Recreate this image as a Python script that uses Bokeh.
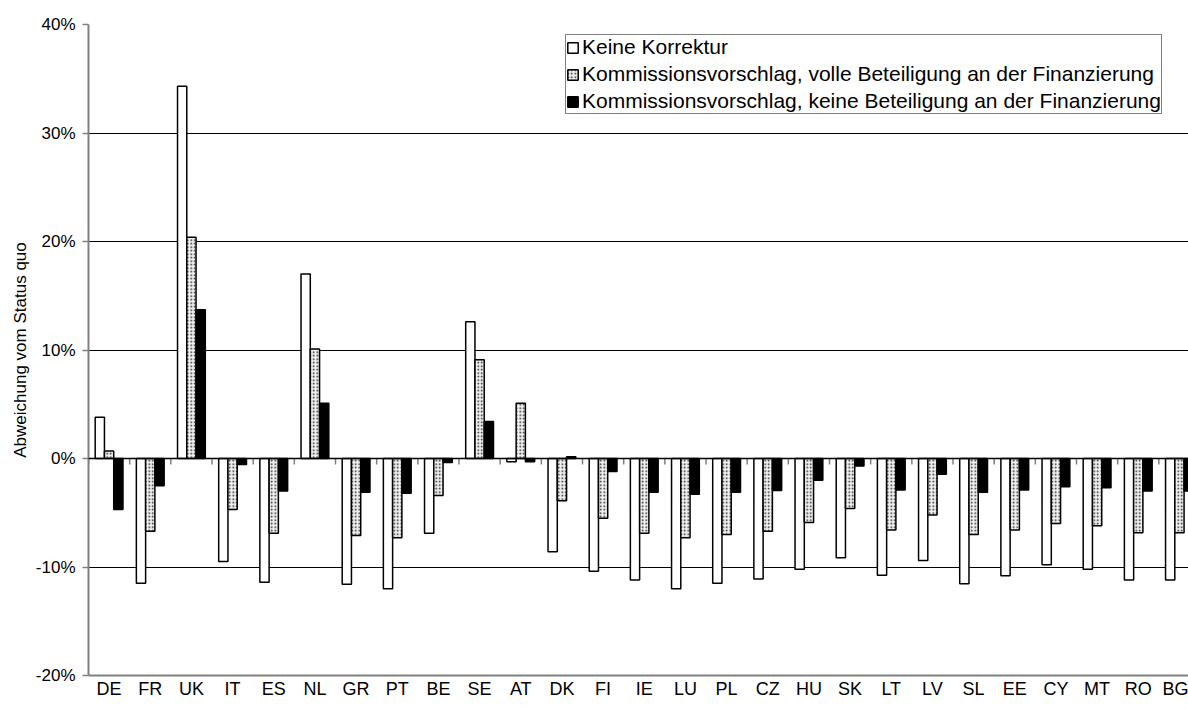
from bokeh.plotting import figure
from bokeh.models import Range1d, FixedTicker, NumeralTickFormatter, Legend, LegendItem, Span
from bokeh.embed import file_html
from bokeh.resources import INLINE

countries = ["DE", "FR", "UK", "IT", "ES", "NL", "GR", "PT", "BE", "SE", "AT", "DK", "FI", "IE",
             "LU", "PL", "CZ", "HU", "SK", "LT", "LV", "SL", "EE", "CY", "MT", "RO", "BG"]
keine_korrektur = [3.8, -11.5, 34.3, -9.5, -11.4, 17.0, -11.6, -12.0, -6.9, 12.6, -0.3, -8.6, -10.4, -11.2,
                   -12.0, -11.5, -11.1, -10.2, -9.15, -10.75, -9.4, -11.55, -10.8, -9.8, -10.2, -11.2, -11.2]
volle_beteiligung = [0.7, -6.7, 20.4, -4.7, -6.9, 10.1, -7.1, -7.3, -3.4, 9.1, 5.1, -3.9, -5.5, -6.9,
                     -7.3, -7.0, -6.7, -5.9, -4.6, -6.6, -5.2, -7.0, -6.6, -6.0, -6.2, -6.85, -6.85]
keine_beteiligung = [-4.7, -2.5, 13.7, -0.55, -3.0, 5.1, -3.1, -3.2, -0.37, 3.4, -0.3, 0.15, -1.2, -3.1,
                     -3.3, -3.1, -2.95, -2.0, -0.7, -2.9, -1.45, -3.1, -2.9, -2.6, -2.7, -3.0, -3.0]
series_labels = ["Keine Korrektur",
                 "Kommissionsvorschlag, volle Beteiligung an der Finanzierung",
                 "Kommissionsvorschlag, keine Beteiligung an der Finanzierung"]
y_ticks = [-0.2, -0.1, 0.0, 0.1, 0.2, 0.3, 0.4]

FONT = "Liberation Sans"
n = len(countries)
centers = [i + 0.5 for i in range(n)]
bounds = [i for i in range(n + 1)]
bw = 0.225

p = figure(width=1188, height=711, output_backend="svg", toolbar_location=None,
           x_range=Range1d(0, 26.72), y_range=Range1d(-0.2, 0.4),
           min_border_left=88, min_border_top=24, min_border_bottom=36, min_border_right=0)
p.outline_line_color = None
p.background_fill_color = "white"
p.border_fill_color = "white"

# grid
p.xgrid.grid_line_color = None
p.ygrid.ticker = FixedTicker(ticks=y_ticks)
p.ygrid.grid_line_color = "black"
p.ygrid.grid_line_width = 1

# y axis
ya = p.yaxis[0]
ya.ticker = FixedTicker(ticks=y_ticks)
ya.formatter = NumeralTickFormatter(format="0%")
ya.axis_line_color = "#808080"
ya.axis_line_width = 2
ya.major_tick_line_color = "#808080"
ya.major_tick_line_width = 1.5
ya.major_tick_out = 6
ya.major_tick_in = 0
ya.minor_tick_line_color = None
ya.major_label_text_font = FONT
ya.major_label_text_font_size = "17px"
ya.major_label_text_color = "black"
ya.major_label_standoff = 7
ya.axis_label = "Abweichung vom Status quo"
ya.axis_label_text_font = FONT
ya.axis_label_text_font_size = "17px"
ya.axis_label_text_font_style = "normal"
ya.axis_label_text_color = "black"
ya.axis_label_standoff = 3

# x axis
xa = p.xaxis[0]
xa.ticker = FixedTicker(ticks=centers)
xa.major_label_overrides = {c: name for c, name in zip(centers, countries)}
xa.axis_line_color = "#808080"
xa.axis_line_width = 2
xa.major_tick_line_color = None
xa.minor_tick_line_color = None
xa.major_tick_out = 0
xa.major_tick_in = 0
xa.major_label_text_font = FONT
xa.major_label_text_font_size = "18px"
xa.major_label_text_color = "black"
xa.major_label_standoff = 3

# zero line with category tick marks
p.add_layout(Span(location=0, dimension="width", line_color="black", line_width=1.5))
p.segment(x0=bounds, y0=[0] * len(bounds), x1=bounds, y1=[-0.0055] * len(bounds),
          line_color="#808080", line_width=1.5)

r1 = p.vbar(x=[c - bw for c in centers], top=[v / 100 for v in keine_korrektur], bottom=0, width=bw,
            fill_color="white", line_color="black", line_width=1.5)
r2 = p.vbar(x=centers, top=[v / 100 for v in volle_beteiligung], bottom=0, width=bw,
            fill_color="#eeeeee", line_color="black", line_width=1.5,
            hatch_pattern="dot", hatch_color="#222222", hatch_scale=3.5, hatch_weight=1.5)
r3 = p.vbar(x=[c + bw for c in centers], top=[v / 100 for v in keine_beteiligung], bottom=0, width=bw,
            fill_color="black", line_color="black", line_width=1.5)

legend = Legend(items=[LegendItem(label=series_labels[0], renderers=[r1]),
                       LegendItem(label=series_labels[1], renderers=[r2]),
                       LegendItem(label=series_labels[2], renderers=[r3])],
                location=(477, 561))
legend.border_line_color = "black"
legend.border_line_width = 1
legend.background_fill_color = "white"
legend.background_fill_alpha = 1
legend.label_text_font = FONT
legend.label_text_font_size = "21px"
legend.label_text_color = "black"
legend.glyph_width = 13
legend.glyph_height = 13
legend.label_height = 20
legend.spacing = 3
legend.padding = 0
legend.margin = 0
legend.label_standoff = 3
p.add_layout(legend)

open("out.html", "w").write(file_html(p, INLINE))
